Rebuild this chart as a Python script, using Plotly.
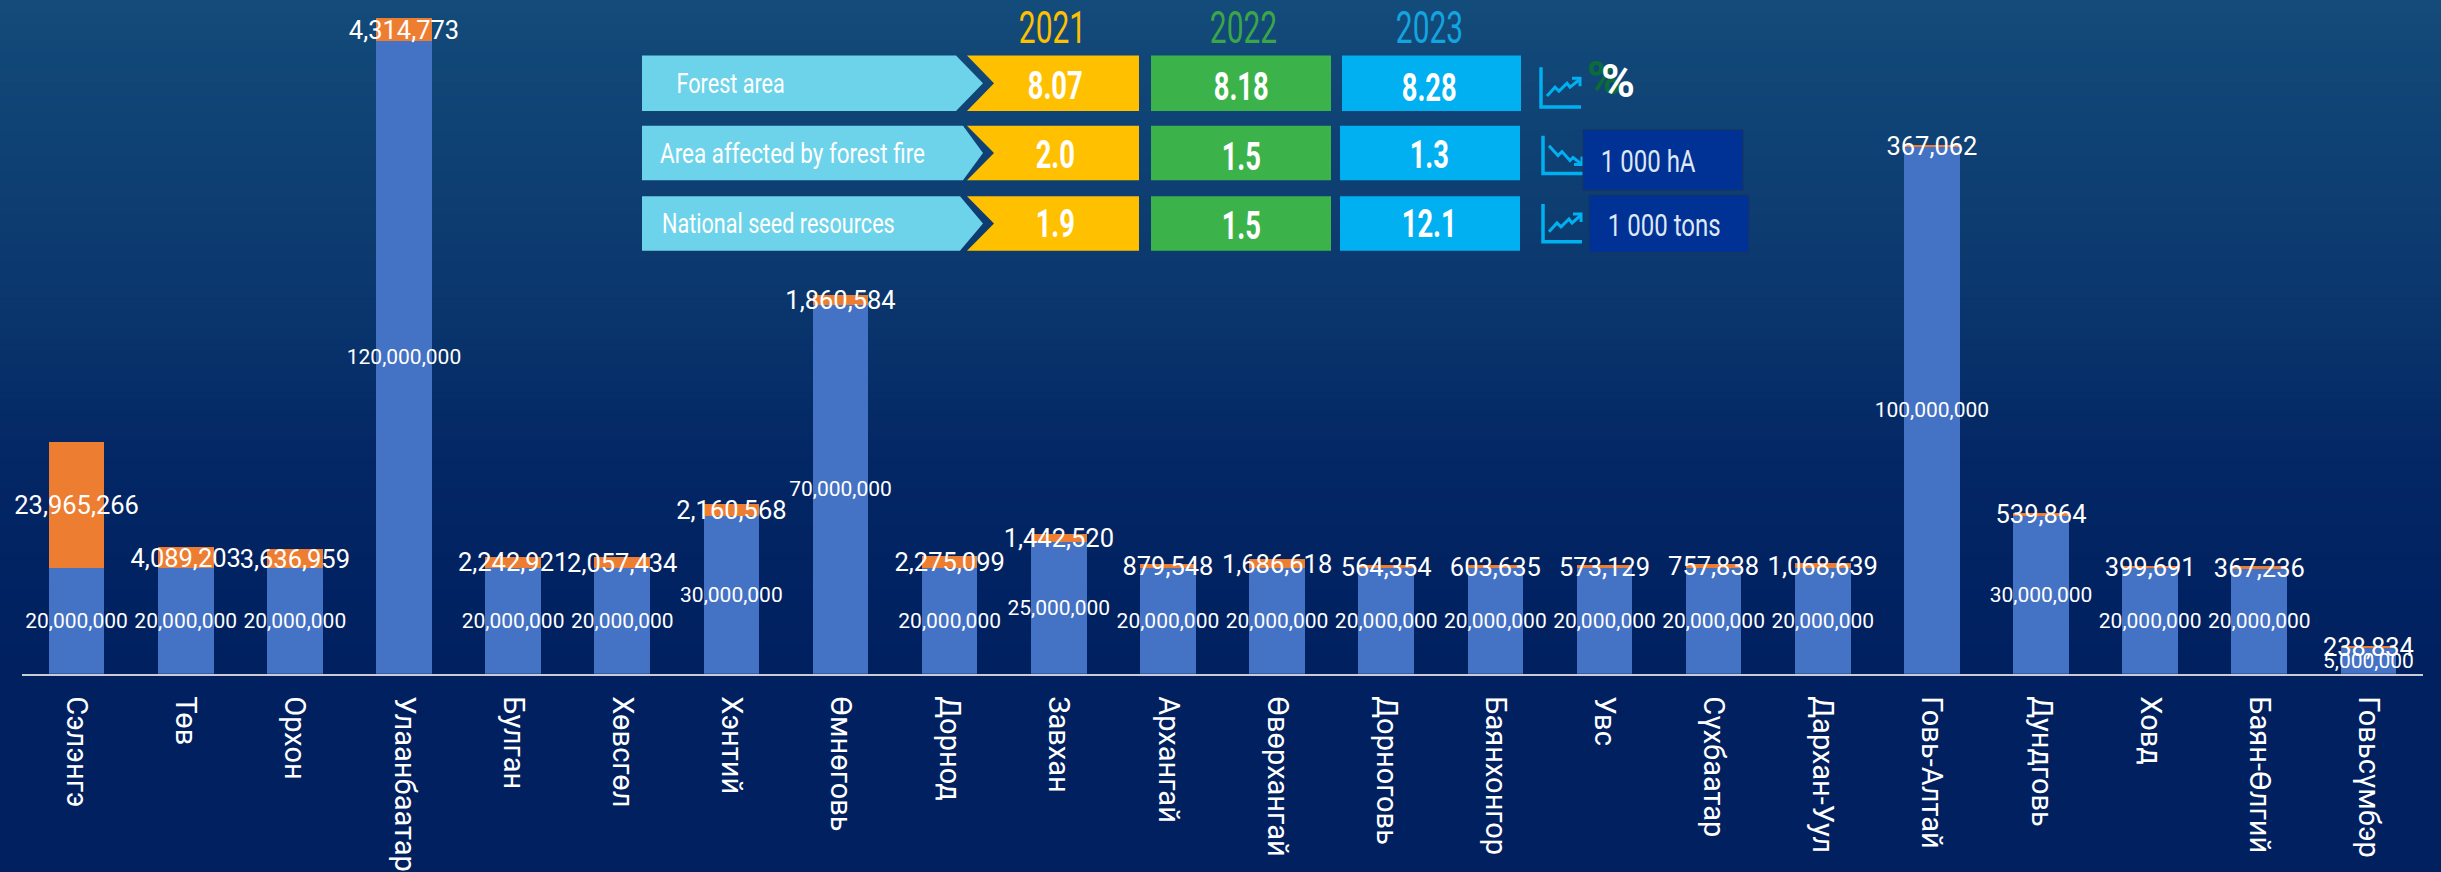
import json
import plotly.graph_objects as go

W, H = 2441, 872
categories = ["Сэлэнгэ","Төв","Орхон","Улаанбаатар","Булган","Хөвсгөл","Хэнтий","Өмнөговь","Дорнод","Завхан","Архангай","Өвөрхангай","Дорноговь","Баянхонгор","Увс","Сүхбаатар","Дархан-Уул","Говь-Алтай","Дундговь","Ховд","Баян-Өлгий","Говьсүмбэр"]
blue_values = [20000000,20000000,20000000,120000000,20000000,20000000,30000000,70000000,20000000,25000000,20000000,20000000,20000000,20000000,20000000,20000000,20000000,100000000,30000000,20000000,20000000,5000000]
orange_values = [23965266,4089203,3636959,4314773,2242921,2057434,2160568,1860584,2275099,1442520,879548,1686618,564354,603635,573129,757838,1068639,367062,539864,399691,367236,238834]
years = ["2021","2022","2023"]
row_labels = ["Forest area","Area affected by forest fire","National seed resources"]
table_values = [["8.07","8.18","8.28"],["2.0","1.5","1.3"],["1.9","1.5","12.1"]]
units = ["%","1 000 hA","1 000 tons"]

FONT = "Roboto"

def px(x): return x / W
def py(y): return 1 - y / H
def path(pts, close=True):
    s = "M " + " L ".join(f"{px(x):.5f} {py(y):.5f}" for x, y in pts)
    return s + (" Z" if close else "")

shapes = []
# vertical background gradient: each band runs to the bottom so no seams show
stops = [(0, (19,75,122)), (280, (11,56,110)), (470, (3,38,100)), (680, (0,32,96)), (872, (0,32,96))]
def bg(y):
    for (a, ca), (b, cb) in zip(stops, stops[1:]):
        if a <= y <= b:
            t = (y - a) / (b - a)
            return "rgb(%d,%d,%d)" % tuple(round(p + (q - p) * t) for p, q in zip(ca, cb))
for y in range(0, H, 6):
    shapes.append(dict(type="rect", xref="paper", yref="paper", layer="below", x0=0, x1=1,
                       y0=0, y1=py(y), line_width=0, fillcolor=bg(y)))

def poly(pts, fill, line=None):
    shapes.append(dict(type="path", xref="paper", yref="paper", layer="above", path=path(pts),
                       fillcolor=fill, line=dict(width=1 if line else 0, color=line or fill)))
def stroke(pts, color="#00b0f0", width=3):
    shapes.append(dict(type="path", xref="paper", yref="paper", layer="above", path=path(pts, False),
                       line=dict(width=width, color=color)))

annotations = []
def text(x, y, s, size, color="#ffffff", bold=False):
    annotations.append(dict(xref="paper", yref="paper", x=px(x), y=py(y), text=f"<b>{s}</b>" if bold else s,
                            showarrow=False, xanchor="center", yanchor="middle",
                            font=dict(family=FONT, size=size, color=color)))

# horizontal squeeze applied to the table's texts (the original face is condensed)
squeeze = {}

tops = [56, 127, 198]
bots = [112, 182, 253]
notch = [956, 963, 960]
label_center = [730, 792, 778]
label_squeeze = [0.80, 0.83, 0.80]
yellow, green, sky, light = "#ffc000", "#3cb34a", "#00b0f0", "#6dd3ea"
vcent = [[87, 88, 89], [156, 158, 156], [226, 228, 226]]
sky_edges = [(1342, 1521), (1340, 1520), (1340, 1520)]
for r in range(3):
    t, b = tops[r], bots[r]
    m = (t + b) / 2
    poly([(642, t), (notch[r], t), (983, m), (notch[r], b), (642, b)], light)
    poly([(967, t), (1139, t), (1139, b), (967, b), (994, m)], yellow)
    poly([(1151, t), (1331, t), (1331, b), (1151, b)], green)
    poly([(sky_edges[r][0], t), (sky_edges[r][1], t), (sky_edges[r][1], b), (sky_edges[r][0], b)], sky)
    text(label_center[r], m + 1, row_labels[r], 27)
    squeeze[row_labels[r]] = label_squeeze[r]
    for c, cx in enumerate([1055, 1241, 1429]):
        text(cx, vcent[r][c], table_values[r][c], 38, bold=True)
        squeeze[table_values[r][c]] = 0.72

for c, (cx, col) in enumerate(zip([1052, 1243, 1430], [yellow, "#3aa648", "#12a5e0"])):
    text(cx, 28, years[c], 44, color=col)
    squeeze[years[c]] = 0.68

# trend icons
stroke([(1541, 68), (1541, 108), (1581, 108)], width=3.5)
stroke([(1547, 97), (1555, 88), (1559, 92), (1567, 84), (1570, 88), (1580, 80)])
stroke([(1572, 79), (1580, 79), (1580, 87)])
stroke([(1543, 137), (1543, 175), (1583, 175)], width=3.5)
stroke([(1549, 147), (1558, 157), (1562, 153), (1570, 162), (1573, 159), (1582, 166)])
stroke([(1582, 158), (1582, 166), (1574, 166)])
stroke([(1543, 206), (1543, 244), (1582, 244)], width=3.5)
stroke([(1549, 234), (1557, 225), (1561, 229), (1569, 221), (1572, 225), (1581, 217)])
stroke([(1573, 216), (1581, 216), (1581, 224)])

# unit boxes
poly([(1583, 131), (1743, 131), (1743, 192), (1583, 192)], "#003296", "#1a3560")
poly([(1589, 197), (1749, 197), (1749, 255), (1589, 255)], "#003296", "#1a3560")
text(1604, 79, units[0], 46, color="#0b6b3a", bold=True)
text(1618, 82, units[0], 46, bold=True)
text(1648, 162, units[1], 32, color="#dfe8f5")
text(1664, 227, units[2], 32, color="#dfe8f5")
squeeze[units[1]] = 0.75
squeeze[units[2]] = 0.75

fig = go.Figure()
fig.add_bar(x=categories, y=blue_values, marker=dict(color="#4472c4", line_width=0), cliponaxis=False,
            texttemplate="%{y:,.0f}", textposition="inside", insidetextanchor="middle", textangle=0,
            constraintext="none", insidetextfont=dict(family=FONT, size=21, color="#ffffff"))
fig.add_bar(x=categories, y=orange_values, marker=dict(color="#ed7d31", line_width=0), cliponaxis=False,
            texttemplate="%{y:,.0f}", textposition="inside", insidetextanchor="middle", textangle=0,
            constraintext="none", insidetextfont=dict(family=FONT, size=25.5, color="#ffffff"))

BASE = 680
SCALE = 5.32e-6  # pixels per unit
fig.update_layout(
    width=W, height=H, barmode="stack", bargap=0.49, showlegend=False, hovermode=False,
    margin=dict(l=0, r=0, t=0, b=0), paper_bgcolor="#002060", plot_bgcolor="rgba(0,0,0,0)",
    shapes=shapes, annotations=annotations,
    xaxis=dict(domain=[22 / W, 2423 / W], type="category", tickangle=90, showgrid=False, ticks="",
               showline=True, linecolor="#c9ccd4", linewidth=1.5, anchor="y", ticklabelstandoff=15,
               tickfont=dict(family=FONT, size=29, color="#ffffff")),
    yaxis=dict(domain=[1 - BASE / H, 1], range=[0, BASE / SCALE], visible=False),
)
post = """
document.body.style.margin='0';
document.documentElement.style.overflow='hidden';
var squeeze = %s;
document.querySelectorAll('.annotation-text').forEach(function(t){
  var f = squeeze[t.textContent];
  if(f){ t.setAttribute('lengthAdjust','spacingAndGlyphs'); t.setAttribute('textLength', t.getComputedTextLength()*f); }
});
""" % json.dumps(squeeze)
fig.write_html("out.html", config=dict(displayModeBar=False), post_script=post)
